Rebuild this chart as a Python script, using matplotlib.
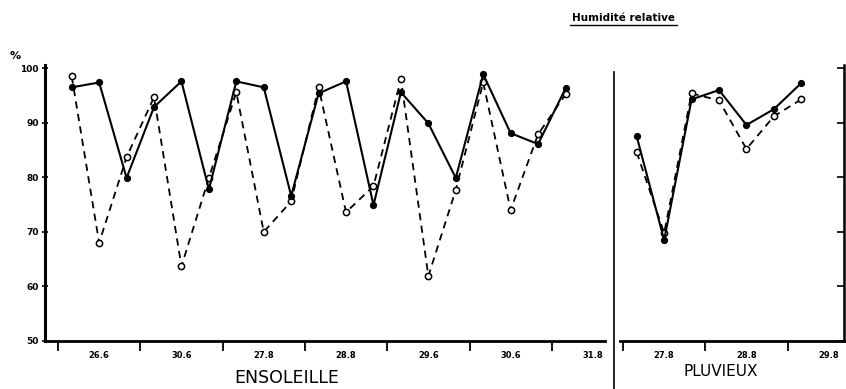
import numpy as np
import matplotlib.pyplot as plt
from matplotlib.lines import Line2D

# -- Data --------------------------------------------------------------------
sunny_days = ["26.6", "30.6", "27.8", "28.8", "29.6", "30.6", "31.8"]
rainy_days = ["27.8", "28.8", "29.8"]

# three readings per day; last sunny day has only its first reading
sunny_solid = [96.5, 97.4, 79.9, 92.9, 97.6, 77.8, 97.6, 96.5, 76.6,
               95.4, 97.6, 74.9, 95.6, 89.9, 79.9, 98.9, 88.1, 86.1, 96.3]
sunny_dashed = [98.5, 68.0, 83.7, 94.7, 63.7, 79.9, 95.6, 70.0, 75.6,
                96.5, 73.6, 78.4, 98.0, 61.9, 77.7, 97.4, 74.0, 87.9, 95.2]
rainy_solid = [87.5, 68.5, 94.3, 96.0, 89.6, 92.5, 97.3]
rainy_dashed = [84.6, 69.8, 95.4, 94.1, 85.2, 91.2, 94.3]

y_ticks = [50, 60, 70, 80, 90, 100]


def reading_pos(n):
    idx = np.arange(n)
    return idx // 3 + (idx % 3 + 0.5) / 3.0


W, H = 846, 389
fig = plt.figure(figsize=(W / 100, H / 100), dpi=100)
plt.rcParams["font.family"] = "DejaVu Sans"

# -- Panels --------------------------------------------------------------
ax1 = fig.add_axes([45 / W, 1 - 341 / H, 560 / W, 276 / H])
ax2 = fig.add_axes([620 / W, 1 - 341 / H, 224 / W, 276 / H])

day_w = 82.3
for ax, days, solid, dashed, x0_pix, width_pix in [
    (ax1, sunny_days, sunny_solid, sunny_dashed, 58 - 45, 560),
    (ax2, rainy_days, rainy_solid, rainy_dashed, 623 - 620, 224),
]:
    xs = reading_pos(len(solid))
    ax.plot(xs, solid, color="black", lw=1.5, marker="o", ms=4.2,
            mfc="black", mec="black", zorder=3)
    ax.plot(xs, dashed, color="black", lw=1.3, ls=(0, (4, 3)), marker="o",
            ms=4.5, mfc="white", mec="black", mew=1.1, zorder=2)

    lo = -x0_pix / day_w
    ax.set_xlim(lo, lo + width_pix / day_w)
    ax.set_ylim(50, 100.6)

    ax.set_xticks(np.arange(len(days)))
    ax.set_xticklabels([])
    ax.set_xticks(np.arange(len(days)) + 0.5, minor=True)
    ax.set_xticklabels(days, minor=True, fontsize=6, fontweight="bold")
    ax.tick_params(axis="x", which="major", direction="out", length=7,
                   width=1.3)
    ax.tick_params(axis="x", which="minor", length=0, pad=7)

    ax.spines["top"].set_visible(False)
    ax.spines["bottom"].set_linewidth(2.0)
    ax.set_yticks(y_ticks)

ax1.spines["right"].set_visible(False)
ax1.spines["left"].set_linewidth(2.2)
ax1.set_yticklabels([str(v) for v in y_ticks], fontsize=6.5,
                    fontweight="bold")
ax1.tick_params(axis="y", direction="inout", length=5, width=1.2, pad=2)

ax2.spines["left"].set_visible(False)
ax2.spines["right"].set_linewidth(1.8)
ax2.yaxis.tick_right()
ax2.set_yticklabels([])
ax2.tick_params(axis="y", direction="in", length=5, width=1.2)

# separator between the two panels
fig.add_artist(Line2D([614 / W, 614 / W], [1 - 72 / H, 0.0],
                      color="black", lw=1.2))

# -- Texts ----------------------------------------------------------------
fig.text(287 / W, 1 - 378 / H, "ENSOLEILLE", ha="center", va="center",
         fontsize=12.5)
fig.text(721 / W, 1 - 372 / H, "PLUVIEUX", ha="center", va="center",
         fontsize=11)
fig.text(15 / W, 1 - 56 / H, "%", ha="center", va="center", fontsize=8,
         fontweight="bold")
fig.text(623 / W, 1 - 18 / H, "Humidité relative", ha="center",
         va="center", fontsize=7.5, fontweight="bold")
fig.add_artist(Line2D([570 / W, 677 / W], [1 - 25 / H, 1 - 25 / H],
                      color="black", lw=1.0))

fig.savefig("out.png", dpi=100)
